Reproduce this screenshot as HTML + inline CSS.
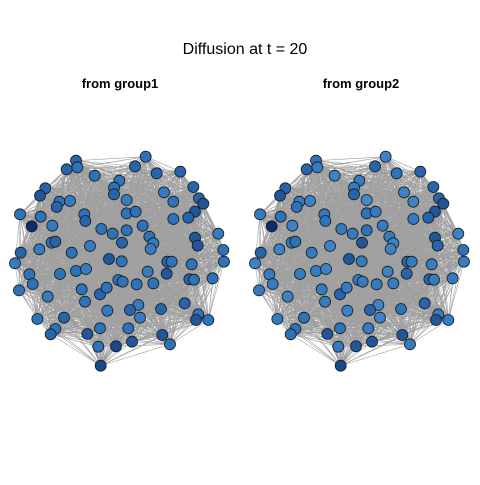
<!DOCTYPE html>
<html><head><meta charset="utf-8"><style>
body{margin:0;background:#fff;}
svg text{font-family:"Liberation Sans",sans-serif;}
</style></head><body>
<svg id="c" width="480" height="480">
<text x="245" y="54" text-anchor="middle" font-size="16">Diffusion at t = 20</text>
<text x="120" y="88" text-anchor="middle" font-size="13" font-weight="bold">from group1</text>
<text x="361" y="88" text-anchor="middle" font-size="13" font-weight="bold">from group2</text>
</svg>
<script>
const nodeX=[437,228,232,200,284,405,470,541,358,136,120,342,342,580,492,597,610,520,178,170,210,380,60,122,253,256,380,407,585,565,520,95,157,304,380,428,338,448,460,452,655,585,593,155,166,118,270,366,62,215,670,45,327,365,502,515,575,672,88,180,228,258,443,500,98,57,355,368,410,460,568,582,638,245,300,320,143,255,554,415,390,483,322,595,588,625,112,192,420,166,152,262,300,385,487,396,348,295,510,302];
const nodeY=[35,47,67,73,92,64,85,80,107,130,152,128,148,126,142,160,176,170,170,186,168,165,208,215,208,228,205,200,200,218,222,244,242,252,256,242,266,275,295,312,266,278,302,293,290,313,303,293,323,323,315,355,342,349,350,350,358,350,388,387,378,372,380,386,417,436,405,410,418,415,403,404,400,433,448,428,455,470,475,480,495,492,497,508,525,525,522,518,518,552,568,567,550,550,570,590,604,605,598,662];
// activity level per node (0 light .. 1 dark)
const level1=[0.5,0.6,0.5,0.6,0.5,0.6,0.6,0.6,0.5,0.6,0.7,0.5,0.6,0.6,0.4,0.6,0.7,0.5,0.5,0.6,0.4,0.4,0.5,0.5,0.5,0.6,0.5,0.5,0.7,0.6,0.5,1,0.4,0.5,0.5,0.5,0.5,0.5,0.4,0.4,0.4,0.7,0.7,0.5,0.6,0.4,0.4,0.6,0.6,0.5,0.5,0.4,0.7,0.5,0.6,0.5,0.5,0.5,0.5,0.5,0.5,0.4,0.4,0.7,0.5,0.5,0.5,0.5,0.5,0.5,0.6,0.5,0.5,0.5,0.6,0.5,0.4,0.5,0.6,0.4,0.6,0.6,0.4,0.5,0.7,0.5,0.5,0.6,0.4,0.5,0.6,0.7,0.5,0.5,0.7,0.7,0.8,0.5,0.5,0.8];
const level2=[0.3,0.5,0.4,0.6,0.3,0.6,0.5,0.6,0.4,0.6,0.7,0.4,0.6,0.6,0.3,0.6,0.7,0.3,0.4,0.5,0.3,0.2,0.4,0.5,0.4,0.5,0.5,0.4,0.7,0.6,0.4,1,0.3,0.4,0.5,0.4,0.4,0.4,0.3,0.3,0.3,0.7,0.6,0.4,0.5,0.3,0.3,0.7,0.6,0.4,0.5,0.3,0.7,0.4,0.6,0.4,0.4,0.4,0.4,0.4,0.4,0.3,0.3,0.6,0.4,0.4,0.4,0.4,0.4,0.4,0.6,0.4,0.4,0.4,0.6,0.4,0.3,0.4,0.6,0.3,0.6,0.5,0.3,0.4,0.7,0.4,0.4,0.5,0.3,0.5,0.5,0.7,0.5,0.4,0.7,0.7,0.7,0.4,0.4,0.8];
const svg=document.getElementById('c');
const NS='http://www.w3.org/2000/svg';
function px(i,off){return off+nodeX[i]/3;}
function py(i){return 145+nodeY[i]/3;}
function col(v){const a=[80,155,215],m=[45,115,185],b=[12,45,110];
 let f;
 if(v<=0.5){f=v/0.5;return 'rgb('+a.map((c,k)=>Math.round(c+(m[k]-c)*f)).join(',')+')';}
 f=(v-0.5)/0.5;return 'rgb('+m.map((c,k)=>Math.round(c+(b[k]-c)*f)).join(',')+')';}
function panel(off,levels,name){
 const g=document.createElementNS(NS,'g');
 
 
 svg.appendChild(g);
 const n=nodeX.length;
 let d='';
 for(let i=0;i<n;i++)for(let j=i+1;j<n;j++){
  const dx=px(i,0)-px(j,0),dy=py(i)-py(j),dist=Math.hypot(dx,dy);
  if(dist<95||((i*7+j*13)%5===0)) d+='M'+px(i,off).toFixed(1)+' '+py(i).toFixed(1)+'L'+px(j,off).toFixed(1)+' '+py(j).toFixed(1);
 }
 const e=document.createElementNS(NS,'path');
 e.setAttribute('d',d);e.setAttribute('stroke','#a0a0a0');e.setAttribute('stroke-width','0.6');e.setAttribute('fill','none');
 
 
 g.appendChild(e);
 for(let i=0;i<n;i++){
  const c=document.createElementNS(NS,'circle');
  c.setAttribute('cx',px(i,off));c.setAttribute('cy',py(i));c.setAttribute('r',5.5);
  c.setAttribute('fill',col(levels[i]));c.setAttribute('stroke','#1a1a1a');c.setAttribute('stroke-width','0.8');
  
  
  g.appendChild(c);
 }
}
panel(0,level1,'group1-network');
panel(240,level2,'group2-network');
</script>
</body></html>
